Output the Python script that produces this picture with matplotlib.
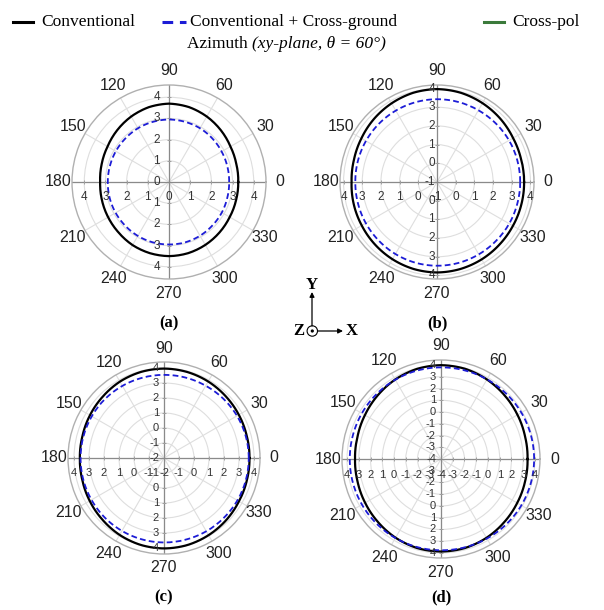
import numpy as np
import matplotlib
matplotlib.use("Agg")
import matplotlib.pyplot as plt
from matplotlib.lines import Line2D
from matplotlib.patches import Circle
import matplotlib.transforms as mtransforms

# angles (deg) at which the patterns were read
angles_deg = [0, 15, 30, 45, 60, 75, 90, 105, 120, 135, 150, 165,
              180, 195, 210, 225, 240, 255, 270, 285, 300, 315, 330, 345]

# (a)
conv_a = [3.27, 3.29, 3.35, 3.46, 3.57, 3.66, 3.70, 3.66, 3.57, 3.46, 3.35, 3.29,
          3.25, 3.28, 3.32, 3.37, 3.44, 3.48, 3.50, 3.48, 3.43, 3.37, 3.31, 3.28]
cross_a = [2.84, 2.85, 2.87, 2.90, 2.93, 2.94, 2.95, 2.94, 2.93, 2.91, 2.90, 2.89,
           2.89, 2.90, 2.91, 2.92, 2.94, 2.95, 2.95, 2.95, 2.93, 2.90, 2.88, 2.85]
# (b)
conv_b = [3.66, 3.66, 3.70, 3.79, 3.87, 3.94, 3.97, 3.94, 3.86, 3.77, 3.67, 3.60,
          3.57, 3.61, 3.65, 3.71, 3.77, 3.82, 3.84, 3.82, 3.78, 3.73, 3.69, 3.67]
cross_b = [3.45, 3.45, 3.45, 3.44, 3.43, 3.43, 3.43, 3.42, 3.41, 3.40, 3.39, 3.38,
           3.37, 3.38, 3.40, 3.42, 3.45, 3.47, 3.48, 3.48, 3.47, 3.46, 3.46, 3.45]
# (c)
conv_c = [3.70, 3.71, 3.76, 3.82, 3.89, 3.94, 3.96, 3.94, 3.88, 3.78, 3.70, 3.63,
          3.61, 3.64, 3.72, 3.81, 3.92, 4.00, 4.03, 4.01, 3.94, 3.86, 3.77, 3.72]
cross_c = [3.65, 3.64, 3.62, 3.59, 3.56, 3.55, 3.54, 3.54, 3.55, 3.56, 3.56, 3.56,
           3.56, 3.57, 3.58, 3.60, 3.61, 3.62, 3.63, 3.63, 3.64, 3.64, 3.65, 3.65]
# (d)
conv_d = [3.37, 3.41, 3.52, 3.66, 3.82, 3.95, 3.99, 3.94, 3.81, 3.64, 3.48, 3.36,
          3.32, 3.36, 3.46, 3.59, 3.74, 3.85, 3.88, 3.85, 3.75, 3.61, 3.49, 3.41]
cross_d = [3.93, 3.92, 3.90, 3.86, 3.83, 3.81, 3.80, 3.80, 3.79, 3.79, 3.78, 3.77,
           3.77, 3.77, 3.77, 3.77, 3.77, 3.77, 3.77, 3.79, 3.82, 3.86, 3.90, 3.92]

panel_labels = ["a", "b", "c", "d"]
r_min = [0, -1, -2, -4]
r_max = [4.58, 4.19, 4.4, 4.43]
theta_labels = [0, 30, 60, 90, 120, 150, 180, 210, 240, 270, 300, 330]

legend_labels = ["Conventional", "Conventional + Cross-ground", "Cross-pol"]

W, H = 604, 610
# layout in pixels: centre x, centre y, radius, label y, radial-label x offset, font size
layout = [
    (169, 182, 97, 323, 9, 8.5),
    (437, 182, 97, 323, 2, 8.5),
    (164, 458, 96, 597, 5, 8.0),
    (441, 459, 99, 597, 5, 8.0),
]

SANS = "Liberation Sans"
SERIF = "Liberation Serif"
BLUE = "#1c1cd6"
GREEN = "#3b7a3b"

fig = plt.figure(figsize=(W / 100, H / 100), dpi=100)

series = [(conv_a, cross_a), (conv_b, cross_b), (conv_c, cross_c), (conv_d, cross_d)]
theta = np.radians(angles_deg + [360])

for i, (conv, cross) in enumerate(series):
    cx, cy, R, ly, vdx, fs = layout[i]
    ax = fig.add_axes([(cx - R) / W, (H - cy - R) / H, 2 * R / W, 2 * R / H],
                      projection="polar")
    rmin, rmax = r_min[i], r_max[i]
    ax.set_rlim(rmin, rmax)
    rings = list(range(rmin + 1, 5))
    ax.set_rticks(rings)
    ax.set_yticklabels([])
    ax.set_xticks(np.radians(theta_labels))
    ax.set_xticklabels([])
    ax.tick_params(length=0)
    ax.grid(True, color="#dedede", lw=0.8)
    ax.spines["polar"].set_color("#b0b0b0")
    ax.spines["polar"].set_linewidth(1.0)

    # crosshair
    ax.plot([0, 1], [0.5, 0.5], transform=ax.transAxes, color="#8a8a8a", lw=0.9, zorder=2)
    ax.plot([0.5, 0.5], [0, 1], transform=ax.transAxes, color="#8a8a8a", lw=0.9, zorder=2)
    ax.plot([np.pi / 2] * len(rings) + [3 * np.pi / 2] * len(rings), rings + rings,
            ls="none", marker="_", ms=3, color="#a0a0a0", mew=0.7, zorder=2)
    ax.plot([0] * len(rings) + [np.pi] * len(rings), rings + rings,
            ls="none", marker="|", ms=3, color="#a0a0a0", mew=0.7, zorder=2)

    # patterns (segments follow the polar transform so they bend like arcs)
    ln_conv, = ax.plot(theta, conv + conv[:1], color="black", lw=1.6, zorder=4)
    ln_cross, = ax.plot(theta, cross + cross[:1], color=BLUE, lw=1.3, dashes=(3.2, 1.8), zorder=5)
    for ln in (ln_conv, ln_cross):
        ln.get_path()._interpolation_steps = 12

    # radial labels along crosshair
    left_tr = mtransforms.offset_copy(ax.transData, fig=fig, x=-vdx, y=0, units="dots")
    down_tr = mtransforms.offset_copy(ax.transData, fig=fig, x=0, y=-15.5, units="dots")
    for r in range(rmin, 5):
        ax.text(np.pi / 2, r, str(r), transform=left_tr, ha="right", va="center",
                fontsize=fs, family=SANS, color="#333333", zorder=6)
        ax.text(0, r, str(r), transform=down_tr, ha="center", va="center",
                fontsize=fs, family=SANS, color="#333333", zorder=6)
        if r > rmin:
            ax.text(3 * np.pi / 2, r, str(r), transform=left_tr, ha="right", va="center",
                    fontsize=fs, family=SANS, color="#333333", zorder=6)
            ax.text(np.pi, r, str(r), transform=down_tr, ha="center", va="center",
                    fontsize=fs, family=SANS, color="#333333", zorder=6)

    # angle labels
    for a in theta_labels:
        t = np.radians(a)
        ax.text(0.5 + 0.5 * 1.145 * np.cos(t), 0.5 + 0.5 * 1.145 * np.sin(t), str(a),
                transform=ax.transAxes, ha="center", va="center",
                fontsize=11.5, family=SANS, color="#222222")

    fig.text(cx / W, 1 - ly / H, "(" + panel_labels[i] + ")", ha="center", va="center",
             fontsize=12, family=SERIF, fontweight="bold")

# overlay in pixel coordinates for legend, title and axis icon
ov = fig.add_axes([0, 0, 1, 1])
ov.set_xlim(0, W)
ov.set_ylim(H, 0)
ov.axis("off")

ly0 = 21.5
ov.add_line(Line2D([13, 33], [ly0, ly0], color="black", lw=2.2))
ov.add_line(Line2D([162, 186], [ly0, ly0], color=BLUE, lw=2.2, dashes=(3.5, 2.2)))
ov.add_line(Line2D([484, 504], [ly0, ly0], color=GREEN, lw=2.2))
for x, lab in zip([41, 190, 512], legend_labels):
    ov.text(x, ly0, lab, ha="left", va="center", fontsize=12.5, family=SERIF)

t1 = ov.text(187, 44, "Azimuth ", ha="left", va="center", fontsize=12.5, family=SERIF)
ov.annotate("(xy-plane, \u03b8 = 60\u00b0)", xy=(1, 0), xycoords=t1, ha="left", va="bottom",
            fontsize=12.5, family=SERIF, style="italic")

# coordinate icon
ov.annotate("", xy=(312, 292), xytext=(312, 326),
            arrowprops=dict(arrowstyle="-|>", color="black", lw=0.9, mutation_scale=7,
                            shrinkA=0, shrinkB=0))
ov.annotate("", xy=(343, 331), xytext=(317.5, 331),
            arrowprops=dict(arrowstyle="-|>", color="black", lw=0.9, mutation_scale=7,
                            shrinkA=0, shrinkB=0))
ov.add_patch(Circle((312.3, 331), 5.2, fill=False, ec="black", lw=0.8))
ov.add_patch(Circle((312.3, 331), 0.9, color="black"))
ov.text(311.7, 285, "Y", ha="center", va="center", fontsize=12, family=SERIF, fontweight="bold")
ov.text(298.5, 331, "Z", ha="center", va="center", fontsize=12, family=SERIF, fontweight="bold")
ov.text(352, 331, "X", ha="center", va="center", fontsize=12, family=SERIF, fontweight="bold")

fig.savefig("out.png", dpi=100)
